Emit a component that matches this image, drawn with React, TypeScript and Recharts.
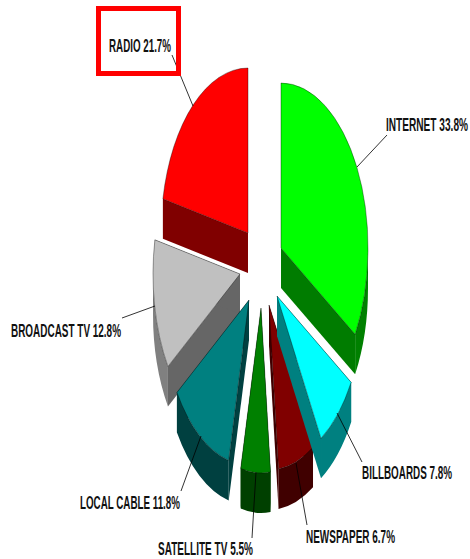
import React from 'react';
import { PieChart, Pie } from 'recharts';

// counter-clockwise from 12 o'clock, so radio is painted first and internet last
const categories = ['RADIO', 'BROADCAST TV', 'LOCAL CABLE', 'SATELLITE TV', 'NEWSPAPER', 'BILLBOARDS', 'INTERNET'];
const shares = [21.7, 12.8, 11.8, 5.5, 6.7, 7.8, 33.8];

const topColors = ['#FF0000', '#C0C0C0', '#008080', '#008000', '#800000', '#00FFFF', '#00FF00'];
const wallColors = ['#800000', '#666666', '#004040', '#004000', '#400000', '#008080', '#007C00'];
const rimColors = ['#800000', '#808080', '#004040', '#004000', '#400000', '#008080', '#008000'];

const CX = 265;
const CY = 265;
const RX = 87;
const RY = 165;
const DEPTH = 40;
const SQUEEZE = 0.58;

// how far each slice is pulled out of the pie
const explodeX = [-17, -25, -16, -4, 4, 12, 16];
const explodeY = [-32, 9, 35, 43, 40, 31, -17];

// text x, text width, text middle y, leader line start and end
const labelBoxes = [
  { x: 109, w: 62, y: 46, line: [172, 55, 193, 106] },
  { x: 11, w: 110, y: 331, line: [122, 318, 155, 306] },
  { x: 80, w: 100, y: 503, line: [181, 491, 201, 436] },
  { x: 158, w: 95, y: 549, line: [252, 538, 256, 472] },
  { x: 306, w: 89, y: 537, line: [307, 525, 296, 463] },
  { x: 362, w: 90, y: 473, line: [362, 462, 337, 413] },
  { x: 386, w: 82, y: 125, line: [387, 135, 357, 167] },
];

const pieData = categories.map((name, i) => ({ name, value: shares[i], fill: topColors[i] }));

const rad = (deg: number) => (deg * Math.PI) / 180;

function SliceShape(props: any) {
  const i = categories.indexOf(props.payload?.name ?? props.name);
  const ax = props.cx + explodeX[i];
  const ay = props.cy + explodeY[i];
  const rx = props.outerRadius;
  const ry = (props.outerRadius * RY) / RX;

  // clockwise angles from the top of the ellipse
  const span = props.endAngle - props.startAngle;
  const t1 = ((90 - props.endAngle) % 360 + 360) % 360;
  const t2 = t1 + span;
  const pt = (t: number) => [ax + rx * Math.sin(rad(t)), ay - ry * Math.cos(rad(t))];

  const [x1, y1] = pt(t1);
  const [x2, y2] = pt(t2);
  const large = span > 180 ? 1 : 0;
  const top = `M${ax},${ay} L${x1},${y1} A${rx},${ry} 0 ${large} 1 ${x2},${y2} Z`;
  const wall = (x: number, y: number) =>
    `M${ax},${ay} L${x},${y} L${x},${y + DEPTH} L${ax},${ay + DEPTH} Z`;

  // outer rim only shows on the lower half of the ellipse
  const from = Math.max(t1, 90);
  const to = Math.min(t2, 270);
  let rim = '';
  if (to > from) {
    const [a, b] = pt(from);
    const [c, d] = pt(to);
    rim = `M${a},${b} A${rx},${ry} 0 0 1 ${c},${d} L${c},${d + DEPTH} A${rx},${ry} 0 0 0 ${a},${b + DEPTH} Z`;
  }

  return (
    <g>
      <path d={wall(x1, y1)} fill={wallColors[i]} />
      <path d={wall(x2, y2)} fill={wallColors[i]} />
      {rim && <path d={rim} fill={rimColors[i]} />}
      <path d={top} fill={props.fill} stroke="#000" strokeOpacity={0.45} strokeWidth={0.8} />
    </g>
  );
}

function SliceLabel(props: any) {
  const i = categories.indexOf(props.name);
  const box = labelBoxes[i];
  const [a, b, c, d] = box.line;
  return (
    <g>
      <line x1={a} y1={b} x2={c} y2={d} stroke="#000" strokeWidth={1} strokeOpacity={0.8} />
      {props.name === 'RADIO' && (
        <rect x={98.5} y={8.5} width={80} height={65} fill="none" stroke="#FF0000" strokeWidth={5} />
      )}
      <text
        transform={`translate(${box.x},${box.y}) scale(${SQUEEZE},1)`}
        dominantBaseline="central"
        textLength={box.w / SQUEEZE}
        lengthAdjust="spacingAndGlyphs"
        fontFamily="'Liberation Sans', sans-serif"
        fontWeight="bold"
        fontSize={18}
        fill="#111"
      >
        {`${props.name} ${props.value.toFixed(1)}%`}
      </text>
    </g>
  );
}

export default function App() {
  return (
    <div style={{ position: 'absolute', left: 0, top: 0, width: 470, height: 559, background: '#fff' }}>
      <PieChart width={470} height={559} margin={{ top: 0, right: 0, bottom: 0, left: 0 }}>
        <Pie
          data={pieData}
          dataKey="value"
          nameKey="name"
          cx={CX}
          cy={CY}
          innerRadius={0}
          outerRadius={RX}
          startAngle={90}
          endAngle={450}
          stroke="none"
          shape={SliceShape}
          label={SliceLabel}
          labelLine={false}
          isAnimationActive={false}
        />
      </PieChart>
    </div>
  );
}
